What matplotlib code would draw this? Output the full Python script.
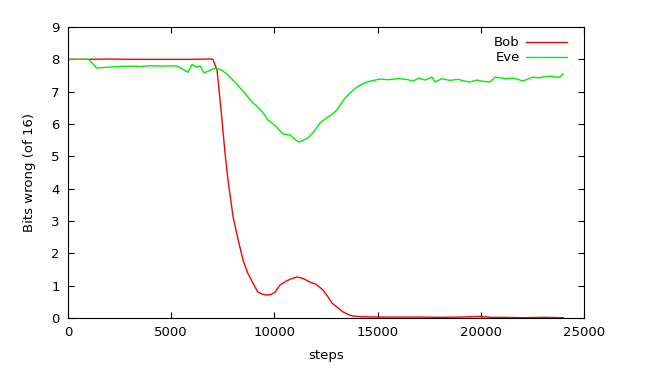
import matplotlib
matplotlib.use("Agg")
import matplotlib.pyplot as plt

# Bob: bits wrong over training steps
bob_steps = [0, 1000, 2000, 3000, 4000, 5000, 6000, 6900, 7020, 7220, 7450, 7600,
             7750, 8000, 8250, 8480, 8700, 8960, 9200, 9400, 9630, 9850, 10030, 10270,
             10600, 10850, 11090, 11400, 11720, 12000, 12350, 12600, 12790, 13050,
             13320, 13600, 13810, 14200, 15000, 16000, 17000, 18000, 19000, 20000,
             20500, 21000, 22000, 23000, 24000]
bob_wrong = [8, 8, 8.01, 8, 8, 8, 8, 8.01, 8, 7.67, 6.2, 5.15,
             4.27, 3.12, 2.4, 1.79, 1.4, 1.08, 0.8, 0.74, 0.71, 0.73, 0.8, 1.02,
             1.15, 1.22, 1.27, 1.22, 1.11, 1.05, 0.87, 0.65, 0.46, 0.33,
             0.19, 0.1, 0.06, 0.04, 0.03, 0.03, 0.03, 0.02, 0.03, 0.05,
             0.02, 0.02, 0.01, 0.02, 0.01]

# Eve: bits wrong over training steps
eve_steps = [0, 1000, 1400, 2000, 2500, 3000, 3500, 4000, 4500, 5000, 5280, 5600,
             5810, 6010, 6200, 6400, 6590, 6850, 7120, 7400, 7700, 7990, 8200,
             8430, 8700, 8910, 9100, 9300, 9500, 9690, 9900, 10110, 10250, 10420,
             10760, 11000, 11200, 11400, 11630, 11900, 12210, 12530, 12800, 13020,
             13200, 13420, 13700, 13990, 14300, 14600, 15116, 15500, 16000, 16400,
             16715, 17000, 17300, 17636, 17780, 18100, 18500, 18900, 19200, 19477,
             19800, 20100, 20445, 20690, 21000, 21300, 21560, 21800, 22045, 22300,
             22530, 22800, 23100, 23400, 23700, 23840, 23980]
eve_wrong = [8, 8, 7.73, 7.76, 7.78, 7.79, 7.78, 7.8, 7.79, 7.8, 7.79, 7.68,
             7.6, 7.85, 7.76, 7.8, 7.58, 7.65, 7.73, 7.68, 7.55, 7.36, 7.22,
             7.05, 6.85, 6.68, 6.58, 6.46, 6.3, 6.12, 6.02, 5.91, 5.8, 5.69,
             5.66, 5.52, 5.44, 5.5, 5.57, 5.75, 6.03, 6.19, 6.3, 6.43,
             6.6, 6.8, 6.98, 7.14, 7.25, 7.32, 7.39, 7.37, 7.4, 7.38,
             7.33, 7.42, 7.36, 7.45, 7.3, 7.4, 7.35, 7.38, 7.33, 7.3,
             7.36, 7.32, 7.3, 7.45, 7.42, 7.4, 7.42, 7.38, 7.33, 7.4,
             7.45, 7.43, 7.46, 7.48, 7.45, 7.45, 7.55]

plt.rcParams['font.family'] = ['DejaVu Sans']
plt.rcParams['font.size'] = 9.5

fig = plt.figure(figsize=(6.5, 3.77), dpi=100)
ax = fig.add_axes([68 / 650, 59 / 377, 516 / 650, 291 / 377])

ax.plot(bob_steps, bob_wrong, color='#ff0000', lw=1, label='Bob')
ax.plot(eve_steps, eve_wrong, color='#00f000', lw=1, label='Eve')

ax.set_xlim(0, 25000)
ax.set_ylim(0, 9)
ax.set_xticks(range(0, 25001, 5000))
ax.set_yticks(range(0, 10))
ax.tick_params(direction='in', length=4, width=0.8, top=True, right=True, pad=6)
ax.set_xlabel('steps', labelpad=7)
ax.set_ylabel('Bits wrong (of 16)', labelpad=11)

ax.legend(loc='upper right', frameon=False, markerfirst=False, handlelength=3.1,
          handletextpad=0.45, labelspacing=0.15, borderaxespad=0.3,
          bbox_to_anchor=(0.984, 1.0))

fig.savefig('out.png', dpi=100)
